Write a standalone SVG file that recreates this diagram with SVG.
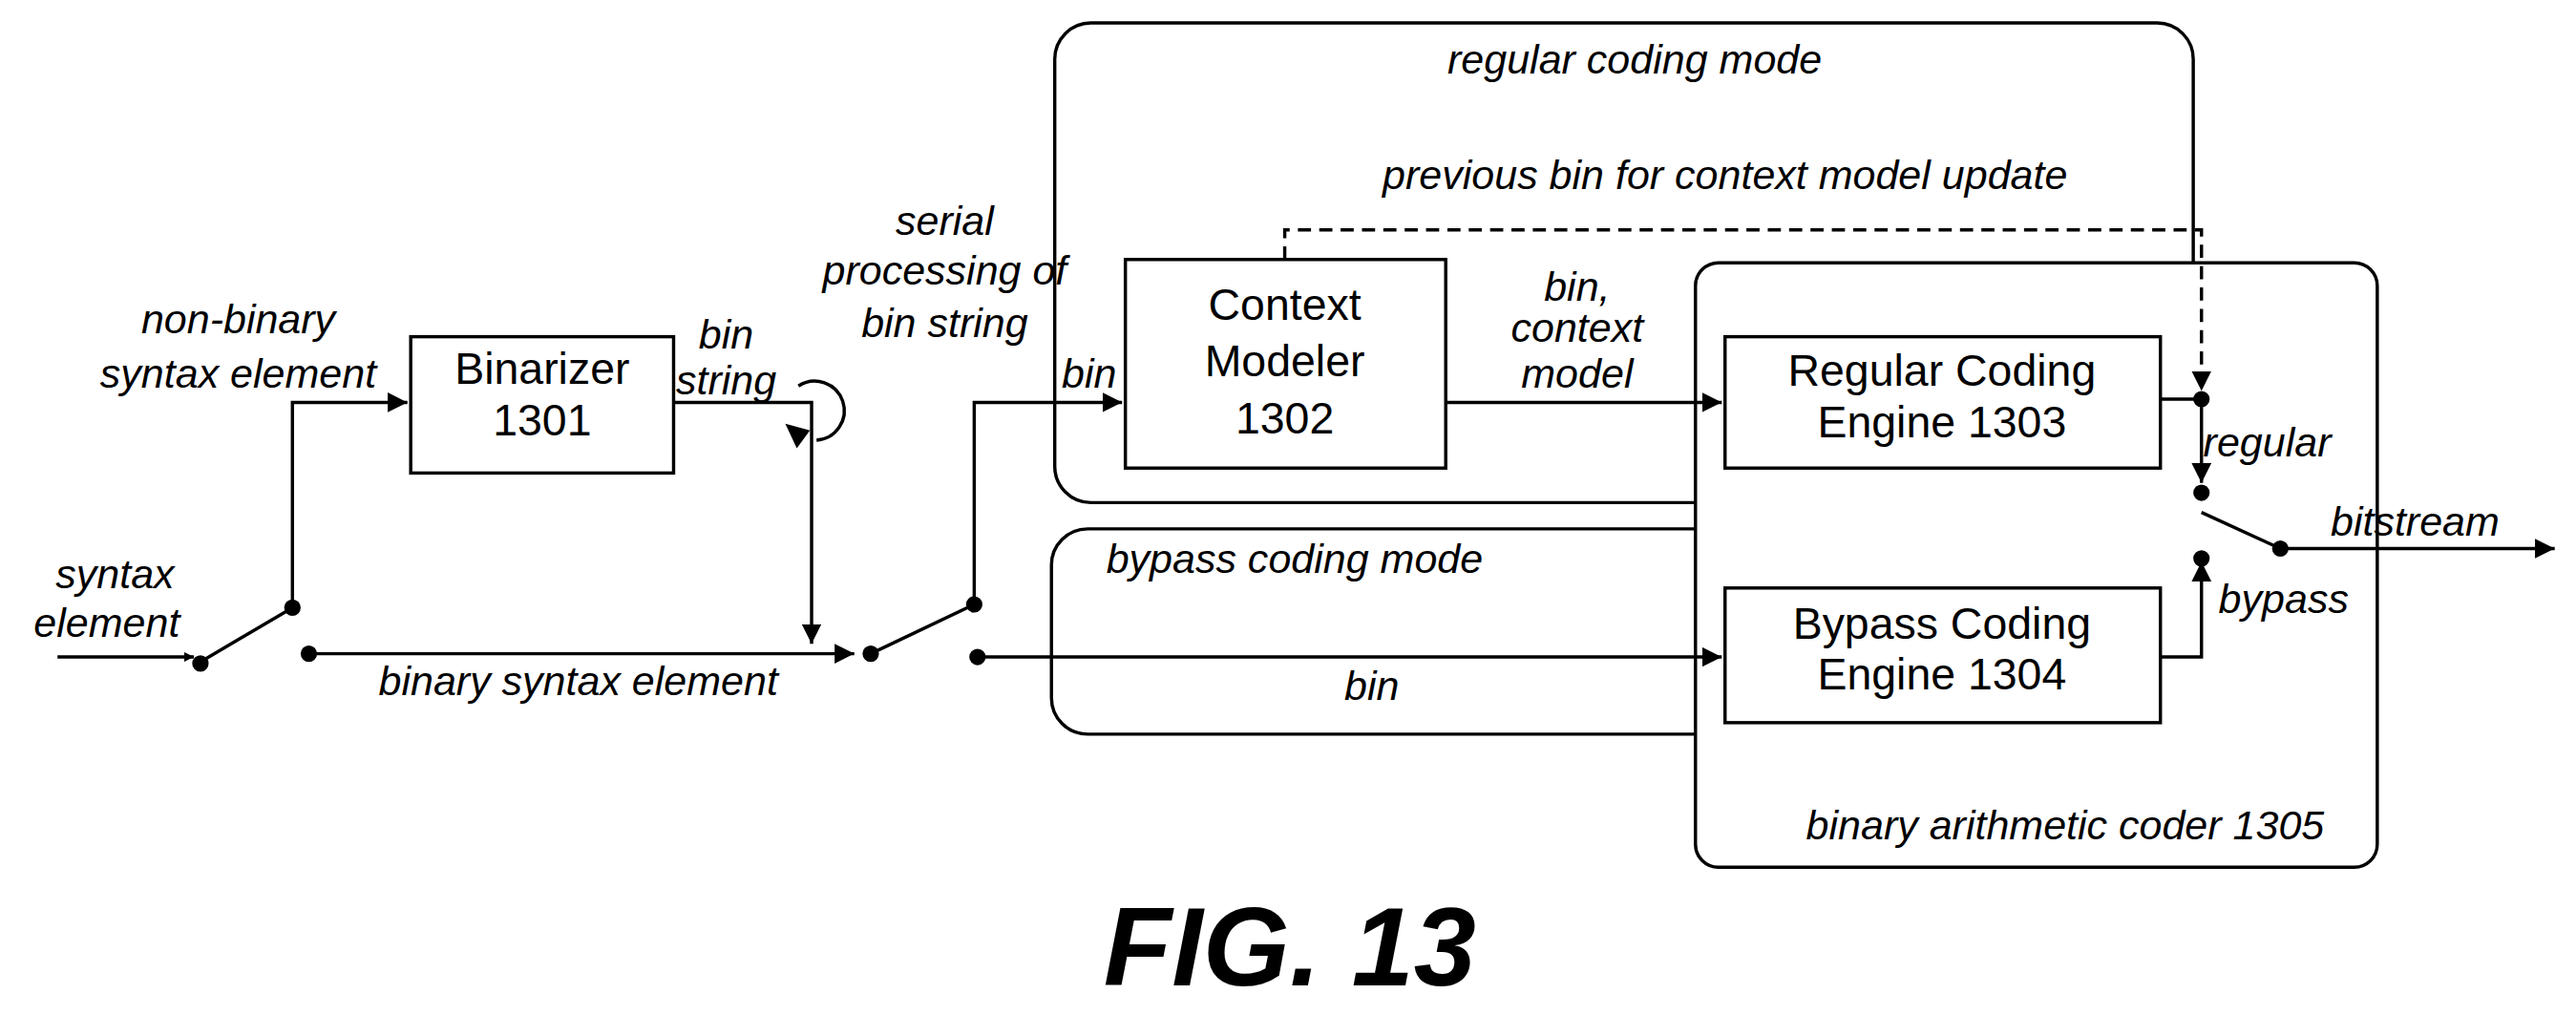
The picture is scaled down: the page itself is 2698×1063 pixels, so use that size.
<svg xmlns="http://www.w3.org/2000/svg" width="2698" height="1063" viewBox="0 0 2698 1063">
<style>
.b{fill:#fff;stroke:#000;stroke-width:2}
.m{fill:none;stroke:#000;stroke-width:2}
.l{fill:none;stroke:#000;stroke-width:2}
.d{fill:none;stroke:#000;stroke-width:2;stroke-dasharray:8,5}
.t{font-family:"Liberation Sans",Arial,sans-serif;font-size:27px;text-anchor:middle}
.i{font-family:"Liberation Sans",Arial,sans-serif;font-size:25px;font-style:italic;text-anchor:middle}
.dot{fill:#000}
</style>
<defs>
<marker id="a" viewBox="0 0 10 10" refX="10" refY="5" markerWidth="6" markerHeight="6" orient="auto" markerUnits="userSpaceOnUse"><path d="M0,0L10,5L0,10z"/></marker>
<marker id="ah" viewBox="0 0 10 10" refX="10" refY="5" markerWidth="12" markerHeight="12" orient="auto" markerUnits="userSpaceOnUse"><path d="M0,0L10,5L0,10z"/></marker>
</defs>
<rect width="2698" height="1063" fill="#fff"/>
<g transform="scale(1.7207,1.7201)">
<g id="regular-mode"><rect class="m" x="642" y="14" width="693" height="292" rx="22"/><text class="i" x="995" y="45">regular coding mode</text></g>
<g id="bypass-mode"><rect class="m" x="640" y="322" width="420" height="125" rx="22"/><text class="i" x="788" y="349">bypass coding mode</text></g>
<g id="bac"><rect class="b" x="1032" y="160" width="415" height="368" rx="14"/><text class="i" x="1257" y="511">binary arithmetic coder 1305</text></g>
<g id="binarizer"><rect class="b" x="250" y="205" width="160" height="83"/><text class="t" x="330" y="234">Binarizer</text><text class="t" x="330" y="265">1301</text></g>
<g id="context-modeler"><rect class="b" x="685" y="158" width="195" height="127"/><text class="t" x="782" y="195">Context</text><text class="t" x="782" y="229">Modeler</text><text class="t" x="782" y="264">1302</text></g>
<g id="regular-engine"><rect class="b" x="1050" y="205" width="265" height="80"/><text class="t" x="1182" y="235">Regular Coding</text><text class="t" x="1182" y="266">Engine 1303</text></g>
<g id="bypass-engine"><rect class="b" x="1050" y="358" width="265" height="82"/><text class="t" x="1182" y="389">Bypass Coding</text><text class="t" x="1182" y="420">Engine 1304</text></g>
<g id="connectors">
<line class="l" x1="35" y1="400" x2="118" y2="400" marker-end="url(#a)"/>
<line class="l" x1="122" y1="403" x2="178" y2="370"/>
<polyline class="l" points="178,370 178,245 248,245" marker-end="url(#ah)"/>
<polyline class="l" points="410,245 494,245 494,392" marker-end="url(#ah)"/>
<path class="l" d="M486,235 A18,18 0 1 1 497,268"/>
<path d="M478,258 L493,262 L485,273 z"/>
<line class="l" x1="188" y1="398" x2="520" y2="398" marker-end="url(#ah)"/>
<line class="l" x1="530" y1="398" x2="593" y2="368"/>
<polyline class="l" points="593,368 593,245 683,245" marker-end="url(#ah)"/>
<line class="l" x1="595" y1="400" x2="1048" y2="400" marker-end="url(#ah)"/>
<line class="l" x1="880" y1="245" x2="1048" y2="245" marker-end="url(#ah)"/>
<polyline class="d" points="782,158 782,140 1340,140 1340,238" marker-end="url(#ah)"/>
<line class="l" x1="1315" y1="243" x2="1340" y2="243"/>
<line class="l" x1="1340" y1="243" x2="1340" y2="294" marker-end="url(#ah)"/>
<polyline class="l" points="1315,400 1340,400 1340,342" marker-end="url(#ah)"/>
<line class="l" x1="1340" y1="312" x2="1388" y2="334"/>
<line class="l" x1="1388" y1="334" x2="1555" y2="334" marker-end="url(#ah)"/>
<circle class="dot" cx="122" cy="404" r="5"/><circle class="dot" cx="178" cy="370" r="5"/><circle class="dot" cx="188" cy="398" r="5"/>
<circle class="dot" cx="530" cy="398" r="5"/><circle class="dot" cx="593" cy="368" r="5"/><circle class="dot" cx="595" cy="400" r="5"/>
<circle class="dot" cx="1340" cy="243" r="5"/><circle class="dot" cx="1340" cy="300" r="5"/><circle class="dot" cx="1340" cy="340" r="5"/><circle class="dot" cx="1388" cy="334" r="5"/>
</g>
<g id="labels">
<text class="i" x="70" y="358">syntax</text><text class="i" x="65" y="388">element</text>
<text class="i" x="145" y="203">non-binary</text><text class="i" x="145" y="236">syntax element</text>
<text class="i" x="442" y="212">bin</text><text class="i" x="442" y="240">string</text>
<text class="i" x="352" y="423">binary syntax element</text>
<text class="i" x="575" y="143">serial</text><text class="i" x="575" y="173">processing of</text><text class="i" x="575" y="205">bin string</text>
<text class="i" x="663" y="236">bin</text>
<text class="i" x="1050" y="115">previous bin for context model update</text>
<text class="i" x="960" y="183">bin,</text><text class="i" x="960" y="208">context</text><text class="i" x="960" y="236">model</text>
<text class="i" x="835" y="426">bin</text>
<text class="i" x="1380" y="278">regular</text>
<text class="i" x="1390" y="373">bypass</text>
<text class="i" x="1470" y="326">bitstream</text>
<text x="785" y="600" style="font-family:'Liberation Sans',Arial,sans-serif;font-size:68px;font-weight:bold;font-style:italic;text-anchor:middle">FIG. 13</text>
</g>
</g>
</svg>
